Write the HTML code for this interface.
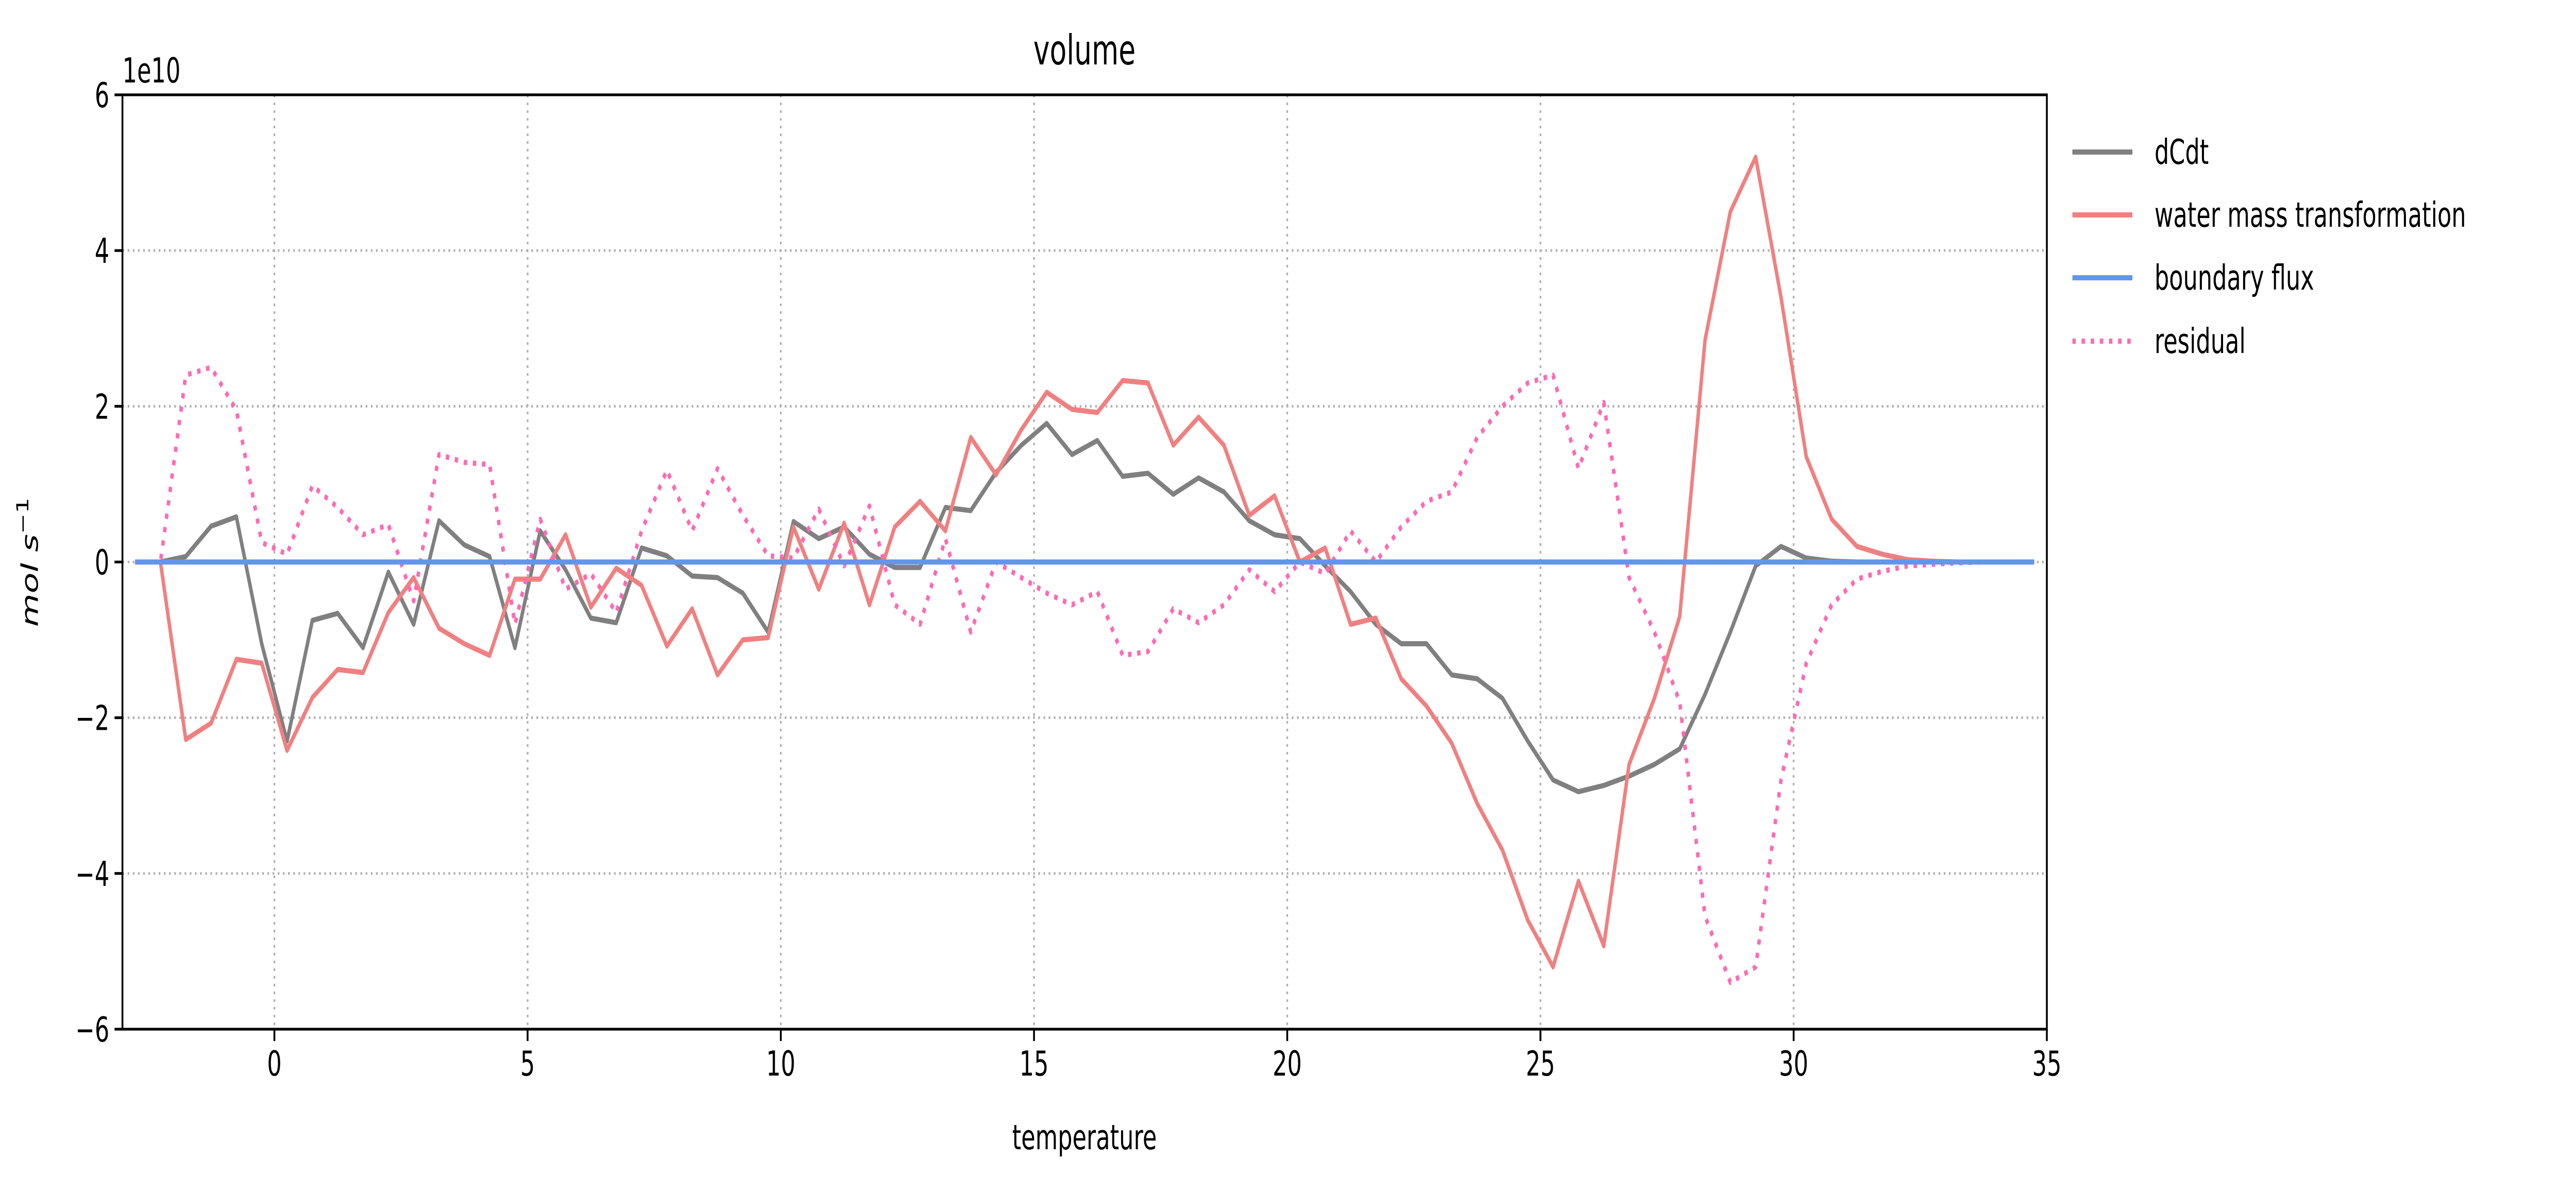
<!DOCTYPE html>
<html><head><meta charset="utf-8"><style>html,body{margin:0;padding:0;background:#fff;overflow:hidden;width:100%;height:100%}svg{display:block;width:100vw;height:100vh}</style></head>
<body>
<svg id="chart" viewBox="0 0 7468 2311" preserveAspectRatio="none" xmlns="http://www.w3.org/2000/svg" font-family="DejaVu Sans, Liberation Sans, sans-serif">
<rect width="7468" height="2311" fill="#fff"/>
<g id="grid"></g>
<g id="series"></g>
<rect x="355" y="184" width="5579" height="1813" fill="none" stroke="#000" stroke-width="5.3"/>
<g id="axes"></g>
<text x="3144" y="125" font-size="80" text-anchor="middle">volume</text>
<text x="355" y="160" font-size="66.7">1e10</text>
<text x="3144" y="2230" font-size="66.7" text-anchor="middle">temperature</text>
<text transform="translate(110,1091) rotate(-90)" font-size="66.7" text-anchor="middle" font-style="italic">mol s<tspan dy="-28" font-size="48" font-style="normal">−1</tspan></text>
<g>
<g><line x1="6008" y1="295" x2="6182" y2="295" stroke="#808080" stroke-width="10"/><text x="6246" y="318" font-size="66.7">dCdt</text></g>
<g><line x1="6008" y1="417" x2="6182" y2="417" stroke="#f08080" stroke-width="10"/><text x="6246" y="440" font-size="66.7">water mass transformation</text></g>
<g><line x1="6008" y1="539" x2="6182" y2="539" stroke="#6495ed" stroke-width="10"/><text x="6246" y="562" font-size="66.7">boundary flux</text></g>
<g><line x1="6008" y1="662" x2="6182" y2="662" stroke="#ff69b4" stroke-width="10" stroke-dasharray="10,16.5"/><text x="6246" y="685" font-size="66.7">residual</text></g>
</g>
</svg>
<script>
const xTicks = [0,5,10,15,20,25,30,35];
const yTicks = [-6,-4,-2,0,2,4,6];
const yTickLabels = ["−6","−4","−2","0","2","4","6"];
const xStart = -2.75, xStep = 0.5;
const dCdt = [0,0,0.07,0.46,0.58,-1.05,-2.3,-0.75,-0.66,-1.1,-0.13,-0.8,0.53,0.22,0.07,-1.1,0.4,-0.1,-0.72,-0.78,0.18,0.08,-0.18,-0.2,-0.4,-0.9,0.52,0.3,0.45,0.1,-0.07,-0.07,0.7,0.66,1.15,1.5,1.78,1.38,1.56,1.1,1.14,0.87,1.08,0.9,0.53,0.35,0.3,-0.05,-0.38,-0.8,-1.05,-1.05,-1.45,-1.5,-1.75,-2.3,-2.8,-2.95,-2.87,-2.75,-2.6,-2.4,-1.7,-0.9,-0.05,0.2,0.05,0.01,0,0,0,0,0,0,0,0];
const wmt = [0,0,-2.28,-2.07,-1.25,-1.3,-2.42,-1.74,-1.38,-1.42,-0.65,-0.2,-0.85,-1.05,-1.2,-0.22,-0.22,0.35,-0.58,-0.08,-0.3,-1.08,-0.6,-1.45,-1.0,-0.97,0.45,-0.35,0.5,-0.55,0.45,0.78,0.4,1.6,1.12,1.7,2.18,1.96,1.92,2.33,2.3,1.5,1.86,1.5,0.6,0.85,0.0,0.18,-0.8,-0.72,-1.5,-1.85,-2.33,-3.1,-3.7,-4.6,-5.2,-4.1,-4.93,-2.6,-1.75,-0.7,2.85,4.5,5.2,3.4,1.35,0.55,0.2,0.1,0.03,0.01,0,0,0,0];
const boundary = new Array(76).fill(0);
const residual = [0,0,2.4,2.5,1.95,0.25,0.1,0.98,0.7,0.35,0.48,-0.5,1.38,1.28,1.25,-0.8,0.55,-0.35,-0.15,-0.65,0.4,1.18,0.4,1.2,0.6,0.08,0.05,0.68,-0.05,0.72,-0.55,-0.8,0.3,-0.9,0.0,-0.2,-0.4,-0.55,-0.38,-1.2,-1.15,-0.6,-0.78,-0.55,-0.1,-0.38,0.0,-0.15,0.4,0.0,0.45,0.78,0.9,1.6,2.0,2.3,2.4,1.2,2.05,-0.2,-0.9,-1.8,-4.55,-5.4,-5.2,-2.8,-1.3,-0.55,-0.22,-0.12,-0.05,-0.03,-0.01,0,0,0];

const NS="http://www.w3.org/2000/svg";
const L=355,R=5934,T=184,B=1997;
const sx=v=>L+(v+3)*(R-L)/38;
const sy=v=>B-(v+6)*(B-T)/12;
function mk(tag,attrs,parent){const e=document.createElementNS(NS,tag);for(const k in attrs)e.setAttribute(k,attrs[k]);parent.appendChild(e);return e;}
const grid=document.getElementById('grid'),axes=document.getElementById('axes'),series=document.getElementById('series');
xTicks.forEach(t=>{
  const g=mk('line',{x1:sx(t),x2:sx(t),y1:T,y2:B,stroke:'#b0b0b0','stroke-width':5,'stroke-dasharray':'5,10'},grid);
  
  
  const tk=mk('line',{x1:sx(t),x2:sx(t),y1:B,y2:B+23,stroke:'#000','stroke-width':5.3},axes);
  
  
  const tx=mk('text',{x:sx(t),y:B+90,'font-size':66.7,'text-anchor':'middle'},axes);
  tx.textContent=t;
  
  
});
yTicks.forEach((t,i)=>{
  const g=mk('line',{x1:L,x2:R,y1:sy(t),y2:sy(t),stroke:'#b0b0b0','stroke-width':5,'stroke-dasharray':'5,10'},grid);
  
  
  const tk=mk('line',{x1:L-23,x2:L,y1:sy(t),y2:sy(t),stroke:'#000','stroke-width':5.3},axes);
  
  
  const tx=mk('text',{x:L-38,y:sy(t)+24,'font-size':66.7,'text-anchor':'end'},axes);
  tx.textContent=yTickLabels[i];
  
  
});
function draw(arr,color,dash,name){
  const pts=arr.map((v,i)=>sx(xStart+i*xStep).toFixed(1)+','+sy(v).toFixed(1)).join(' ');
  const a={points:pts,fill:'none',stroke:color,'stroke-width':10,'stroke-linejoin':'round'};
  if(dash)a['stroke-dasharray']=dash;
  const p=mk('polyline',a,series);
  
  
}
draw(dCdt,'#808080',null,'dcdt-line');
draw(wmt,'#f08080',null,'water-mass-transformation-line');
draw(residual,'#ff69b4','10,16.5','residual-line');
draw(boundary,'#6495ed',null,'boundary-flux-line');
</script>
</body></html>
